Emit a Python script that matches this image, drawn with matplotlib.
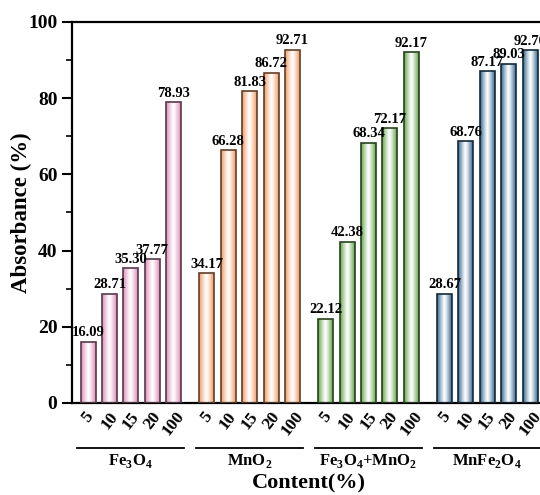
#!/usr/bin/env python3

import numpy as np
import matplotlib
matplotlib.use("Agg")
import matplotlib.pyplot as plt
from matplotlib.colors import LinearSegmentedColormap, to_rgb
from matplotlib.transforms import blended_transform_factory

plt.rcParams['font.family'] = ['Liberation Serif', 'DejaVu Serif']
plt.rcParams['font.weight'] = 'bold'
plt.rcParams['mathtext.fontset'] = 'custom'
plt.rcParams['mathtext.rm'] = 'Liberation Serif:bold'
plt.rcParams['mathtext.bf'] = 'Liberation Serif:bold'

groups = [r'Fe$_\mathbf{3}$O$_\mathbf{4}$', r'MnO$_\mathbf{2}$',
          r'Fe$_\mathbf{3}$O$_\mathbf{4}$+MnO$_\mathbf{2}$', r'MnFe$_\mathbf{2}$O$_\mathbf{4}$']
contents = ['5', '10', '15', '20', '100']
fe3o4 = [16.09, 28.71, 35.30, 37.77, 78.93]
mno2 = [34.17, 66.28, 81.83, 86.72, 92.71]
fe3o4_mno2 = [22.12, 42.38, 68.34, 72.17, 92.17]
mnfe2o4 = [28.67, 68.76, 87.17, 89.03, 92.70]
series = [fe3o4, mno2, fe3o4_mno2, mnfe2o4]
colors = ['#dc8cba', '#f29a62', '#62a448', '#33668f']

pitch = 5.55
width = 0.7


def grad_cmap(c):
    r, g, b = to_rgb(c)
    t = np.linspace(0, 1, 64)
    w = np.abs(2 * t - 1) ** 1.2
    cols = [(1 - wi * (1 - r), 1 - wi * (1 - g), 1 - wi * (1 - b)) for wi in w]
    return LinearSegmentedColormap.from_list('g', cols)


fig = plt.figure(figsize=(5.4, 4.95), dpi=100)
ax = fig.add_axes([0.1333, 0.1859, 0.878, 0.7697])

grad = np.linspace(0, 1, 64).reshape(1, -1)
xt, xl = [], []
for g, vals in enumerate(series):
    xs = g * pitch + np.arange(len(vals))
    dark = tuple(0.4 * v for v in to_rgb(colors[g]))
    bars = ax.bar(xs, vals, width=width, facecolor='none', edgecolor=dark,
                  linewidth=1.2, zorder=3)
    cmap = grad_cmap(colors[g])
    for b, v in zip(bars, vals):
        x0 = b.get_x()
        im = ax.imshow(grad, cmap=cmap, aspect='auto', zorder=2,
                       extent=[x0, x0 + width, 0, v], interpolation='bilinear')
        im.set_clip_path(b)
        ax.text(x0 + width / 2, v + 0.6, f'{v:.2f}', ha='center', va='bottom',
                fontsize=10.5, fontweight='bold', zorder=4)
    xt.extend(xs)
    xl.extend(contents)

    trans = blended_transform_factory(ax.transData, ax.transAxes)
    ax.plot([xs[0] - 0.5, xs[-1] + 0.5], [-0.117, -0.117], color='black',
            lw=1.3, transform=trans, clip_on=False)
    ax.text((xs[0] + xs[-1]) / 2, -0.152, groups[g], transform=trans,
            ha='center', va='center', fontsize=12, fontweight='bold')

ax.set_xlim(-0.75, 3 * pitch + 4 + 0.75)
ax.set_ylim(0, 100)
ax.set_xticks(xt)
ax.set_xticklabels(xl, rotation=52, fontsize=12.5, fontweight='bold')
ax.tick_params(axis='x', length=0, pad=4)
ax.set_yticks([0, 20, 40, 60, 80, 100])
ax.set_yticks([10, 30, 50, 70, 90], minor=True)
ax.tick_params(axis='y', which='major', length=7, width=1.5, labelsize=14, direction='out')
ax.tick_params(axis='y', which='minor', length=4, width=1.2, direction='out')
for lbl in ax.get_yticklabels():
    lbl.set_fontweight('bold')
for s in ax.spines.values():
    s.set_linewidth(1.6)

ax.set_ylabel('Absorbance (%)', fontsize=16.5, fontweight='bold', labelpad=-3)
ax.text(0.5, -0.21, 'Content(%)', transform=ax.transAxes, ha='center', va='center',
        fontsize=16, fontweight='bold')

fig.savefig('out.png', dpi=100)
